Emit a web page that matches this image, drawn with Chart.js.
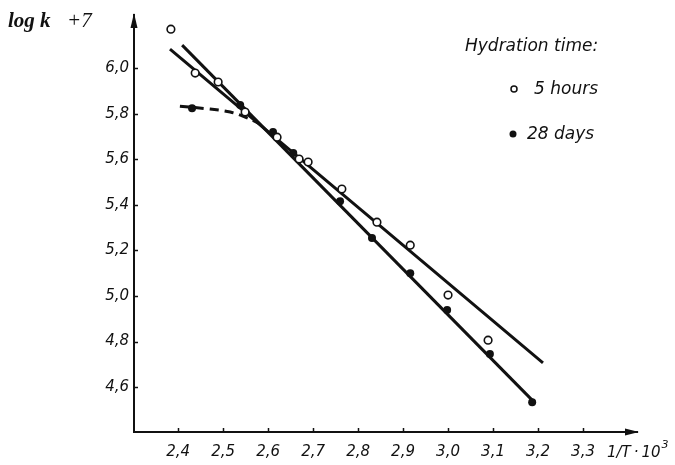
<!DOCTYPE html>
<html>
<head>
<meta charset="utf-8">
<script src="https://cdn.jsdelivr.net/npm/chart.js@4/dist/chart.umd.min.js"></script>
<style>
  html, body { margin: 0; padding: 0; background: #fff; }
  #wrap { width: 675px; height: 465px; }
</style>
</head>
<body>
<div id="wrap"><canvas id="arrhenius" width="675" height="465"></canvas></div>
<script>
// values (1/T·10^3 vs log k + 7)
const hoursX = [2.384, 2.438, 2.489, 2.549, 2.620, 2.669, 2.689, 2.764, 2.842, 2.916, 3.000, 3.089];
const hoursY = [6.171, 5.978, 5.939, 5.807, 5.697, 5.601, 5.588, 5.469, 5.324, 5.223, 5.004, 4.806];

const daysX = [2.431, 2.538, 2.611, 2.656, 2.760, 2.831, 2.916, 2.998, 3.093, 3.187];
const daysY = [5.824, 5.838, 5.719, 5.627, 5.416, 5.254, 5.100, 4.938, 4.745, 4.534];

// fitted straight lines
const hoursFitX = [2.382, 3.211];
const hoursFitY = [6.083, 4.706];
const daysFitX = [2.409, 3.187];
const daysFitY = [6.101, 4.543];

// dashed bend of the 28 days curve at high temperature
const bendX = [2.404, 2.471, 2.516, 2.549, 2.578];
const bendY = [5.833, 5.820, 5.807, 5.785, 5.759];

const xTicks = [2.4, 2.5, 2.6, 2.7, 2.8, 2.9, 3.0, 3.1, 3.2, 3.3];
const yTicks = [4.6, 4.8, 5.0, 5.2, 5.4, 5.6, 5.8, 6.0];

const pts = (xs, ys) => xs.map((x, i) => ({ x: x, y: ys[i] }));
const comma = v => Number(v).toFixed(1).replace('.', ',');
const INK = '#111';
const SANS = '"DejaVu Sans", sans-serif';

const decor = {
    id: 'decor',
    afterDraw(chart) {
        const ctx = chart.ctx;
        const { left, right, top, bottom } = chart.chartArea;
        const xs = chart.scales.x, ys = chart.scales.y;
        ctx.save();
        ctx.strokeStyle = INK;
        ctx.fillStyle = INK;
        ctx.lineWidth = 1.5;

        // inward tick marks
        ctx.beginPath();
        yTicks.forEach(v => {
            const py = Math.round(ys.getPixelForValue(v)) + 0.5;
            ctx.moveTo(left, py);
            ctx.lineTo(left + 4, py);
        });
        xTicks.forEach(v => {
            const px = Math.round(xs.getPixelForValue(v)) + 0.5;
            ctx.moveTo(px, bottom);
            ctx.lineTo(px, bottom - 4);
        });
        ctx.stroke();

        // arrow heads
        ctx.beginPath();
        ctx.moveTo(left, top - 2);
        ctx.lineTo(left - 3.5, top + 13);
        ctx.lineTo(left + 3.5, top + 13);
        ctx.closePath();
        ctx.fill();
        ctx.beginPath();
        ctx.moveTo(right + 2, bottom);
        ctx.lineTo(right - 12, bottom - 3.5);
        ctx.lineTo(right - 12, bottom + 3.5);
        ctx.closePath();
        ctx.fill();

        // y axis title
        ctx.textBaseline = 'alphabetic';
        ctx.textAlign = 'left';
        ctx.font = 'italic bold 21px "Liberation Serif", serif';
        ctx.fillText('log k', 8, 27);
        ctx.font = 'italic 21px "Liberation Serif", serif';
        ctx.fillText('+7', 67, 27);

        // x axis title
        ctx.font = 'italic 15px ' + SANS;
        ctx.textBaseline = 'middle';
        const xt = '1/T\u2009\u00b7\u200910';
        ctx.fillText(xt, 607, 453);
        const w = ctx.measureText(xt).width;
        ctx.font = 'italic 11px ' + SANS;
        ctx.fillText('3', 607 + w + 1, 445);

        // legend
        ctx.font = 'italic 17px ' + SANS;
        ctx.fillText('Hydration time:', 465, 47);
        ctx.fillText('5 hours', 534, 90);
        ctx.fillText('28 days', 527, 135);
        ctx.beginPath();
        ctx.arc(514, 89, 3, 0, 2 * Math.PI);
        ctx.fillStyle = '#fff';
        ctx.fill();
        ctx.lineWidth = 1.5;
        ctx.stroke();
        ctx.beginPath();
        ctx.arc(513, 134, 3.5, 0, 2 * Math.PI);
        ctx.fillStyle = INK;
        ctx.fill();
        ctx.restore();
    }
};

const lineSet = (data, dash) => ({
    type: 'line',
    data: data,
    borderColor: INK,
    borderWidth: 3,
    borderDash: dash || [],
    pointRadius: 0,
    fill: false,
    tension: dash ? 0.4 : 0,
    order: 2
});

new Chart(document.getElementById('arrhenius'), {
    type: 'scatter',
    data: {
        datasets: [
            {
                label: '5 hours',
                data: pts(hoursX, hoursY),
                pointRadius: 3.8,
                pointBackgroundColor: '#fff',
                pointBorderColor: INK,
                pointBorderWidth: 1.6,
                order: 0
            },
            {
                label: '28 days',
                data: pts(daysX, daysY),
                pointRadius: 4,
                pointBackgroundColor: INK,
                pointBorderColor: INK,
                pointBorderWidth: 0,
                order: 1
            },
            lineSet(pts(hoursFitX, hoursFitY)),
            lineSet(pts(daysFitX, daysFitY)),
            lineSet(pts(bendX, bendY), [9, 6])
        ]
    },
    options: {
        responsive: false,
        animation: false,
        layout: { padding: { left: 0, top: 15, right: 38, bottom: 0 } },
        plugins: {
            legend: { display: false },
            tooltip: { enabled: false }
        },
        scales: {
            x: {
                type: 'linear',
                min: 2.302,
                max: 3.420,
                grid: { display: false, drawTicks: false },
                border: { display: true, color: INK, width: 2 },
                afterBuildTicks: s => { s.ticks = xTicks.map(v => ({ value: v })); },
                afterFit: s => { s.height = 33; },
                ticks: {
                    padding: 11,
                    color: INK,
                    font: { family: SANS, size: 15, style: 'italic' },
                    callback: comma
                }
            },
            y: {
                type: 'linear',
                min: 4.403,
                max: 6.233,
                grid: { display: false, drawTicks: false },
                border: { display: true, color: INK, width: 2 },
                afterBuildTicks: s => { s.ticks = yTicks.map(v => ({ value: v })); },
                afterFit: s => { s.width = 134; },
                ticks: {
                    padding: 5,
                    color: INK,
                    font: { family: SANS, size: 15, style: 'italic' },
                    callback: comma
                }
            }
        }
    },
    plugins: [decor]
});
</script>
</body>
</html>
